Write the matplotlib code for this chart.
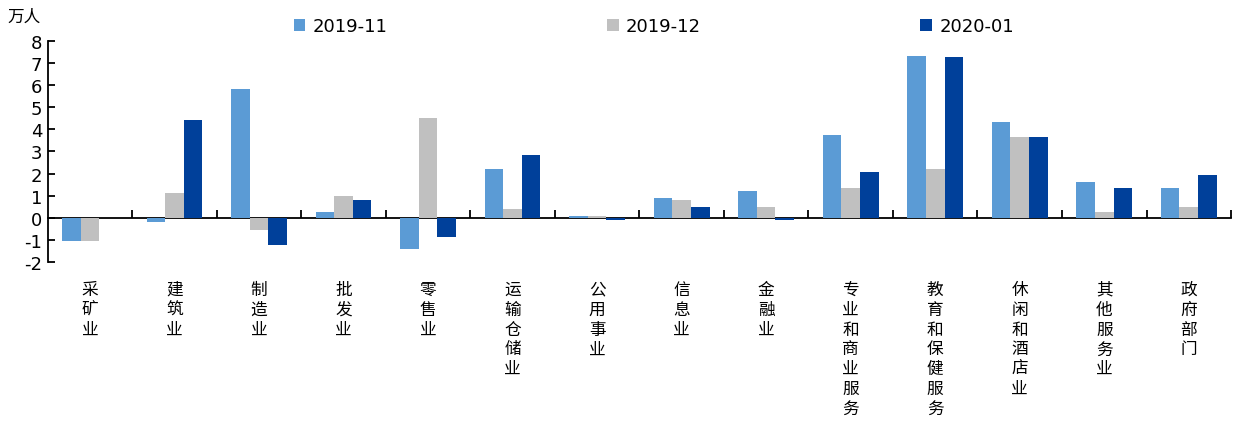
import matplotlib
matplotlib.use("Agg")
import matplotlib.pyplot as plt
import matplotlib.transforms as mtransforms
import numpy as np

plt.rcParams['font.family'] = ['DejaVu Sans', 'Noto Sans CJK SC']

# 非农就业分行业变化（万人）
categories = ['采矿业', '建筑业', '制造业', '批发业', '零售业', '运输仓储业', '公用事业',
              '信息业', '金融业', '专业和商业服务', '教育和保健服务', '休闲和酒店业',
              '其他服务业', '政府部门']
series_names = ['2019-11', '2019-12', '2020-01']
nov_2019 = [-1.05, -0.2, 5.84, 0.26, -1.4, 2.22, 0.09, 0.88, 1.19, 3.73, 7.33, 4.35, 1.6, 1.36]
dec_2019 = [-1.05, 1.12, -0.53, 0.97, 4.51, 0.41, 0.09, 0.8, 0.48, 1.36, 2.22, 3.65, 0.26, 0.5]
jan_2020 = [0.0, 4.42, -1.25, 0.8, -0.86, 2.85, -0.12, 0.48, -0.12, 2.07, 7.28, 3.65, 1.36, 1.92]
yticks = [-2, -1, 0, 1, 2, 3, 4, 5, 6, 7, 8]

colors = ['#5B9BD5', '#C0C0C0', '#00409A']

fig = plt.figure(figsize=(12.35, 4.27), dpi=100)
ax = fig.add_axes([0.0386, 0.384, 0.9582, 0.518])

x = np.arange(len(categories))
w = 0.22
for k, (vals, c, name) in enumerate(zip([nov_2019, dec_2019, jan_2020], colors, series_names)):
    ax.bar(x + (k - 1) * w, vals, width=w, color=c, label=name, zorder=3)

ax.set_xlim(-0.5, len(categories) - 0.5)
ax.set_ylim(-2, 8)
ax.set_yticks(yticks)
ax.set_yticklabels([str(t) for t in yticks], fontsize=13)

for s in ['top', 'right']:
    ax.spines[s].set_visible(False)
ax.spines['bottom'].set_position(('data', 0))
ax.spines['bottom'].set_linewidth(1.3)
ax.spines['left'].set_linewidth(1.3)
ax.set_xticks(np.arange(len(categories)) + 0.5)
ax.set_xticklabels([])
ax.tick_params(axis='x', direction='in', length=6, width=1.3)
ax.tick_params(axis='y', direction='in', length=5, width=1.3, pad=4)

# vertical category names under the plot
trans = mtransforms.blended_transform_factory(ax.transData, ax.transAxes)
for i, name in enumerate(categories):
    ax.text(i, -0.085, '\n'.join(name), transform=trans, ha='center', va='top',
            fontsize=12, linespacing=1.22, family=['Noto Sans CJK SC', 'DejaVu Sans'])

fig.text(0.006, 0.948, '万人', fontsize=12, family=['Noto Sans CJK SC', 'DejaVu Sans'])

fig.legend(loc='center left', bbox_to_anchor=(0.232, 0.937), ncol=3, frameon=False,
           fontsize=13, handlelength=0.65, handleheight=0.65, handletextpad=0.4,
           columnspacing=12.15, borderaxespad=0)

fig.savefig('out.png', dpi=100)
